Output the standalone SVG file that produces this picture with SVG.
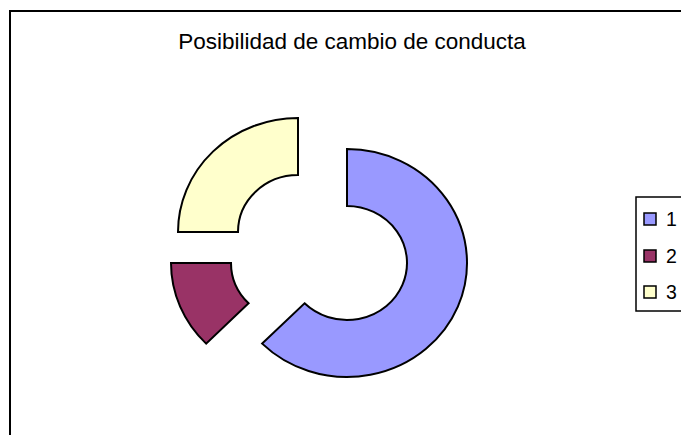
<svg xmlns="http://www.w3.org/2000/svg" width="681" height="435" viewBox="0 0 681 435">
<style>
  .seg { stroke: #000; stroke-width: 2; stroke-linejoin: miter; }
  .s1 { fill: #9999FF; }
  .s2 { fill: #993366; }
  .s3 { fill: #FFFFCC; }
  .sw { stroke: #000; stroke-width: 1.5; }
  .txt { font-family: "Liberation Sans", Arial, sans-serif; fill: #000; }
  .lg { font-size: 19.5px; }
</style>
<rect x="0" y="0" width="681" height="435" fill="#fff"/>
<rect id="chart-frame" x="10" y="11" width="700" height="500" fill="#fff" stroke="#000" stroke-width="2"/>
<text id="title" class="txt" x="352" y="49" font-size="22.5" text-anchor="middle">Posibilidad de cambio de conducta</text>
<g id="donut">
  <g id="seg-1"><path class="seg s1" d="M347,149 A120,114 0 1 1 262.15,343.61 L304.57,303.31 A60,57 0 1 0 347,206 Z"/></g>
  <g id="seg-2"><path class="seg s2" d="M206.15,343.61 A120,114 0 0 1 171,263 L231,263 A60,57 0 0 0 248.57,303.31 Z"/></g>
  <g id="seg-3"><path class="seg s3" d="M178,232 A120,114 0 0 1 298,118 L298,175 A60,57 0 0 0 238,232 Z"/></g>
</g>
<g id="legend">
  <rect x="636" y="197" width="60" height="114" fill="#fff" stroke="#000" stroke-width="1.5"/>
  <g id="legend-1"><rect class="sw s1" x="644" y="213" width="12" height="12"/><text class="txt lg" x="666" y="226">1</text></g>
  <g id="legend-2"><rect class="sw s2" x="644" y="250" width="12" height="12"/><text class="txt lg" x="666" y="263">2</text></g>
  <g id="legend-3"><rect class="sw s3" x="644" y="286" width="12" height="12"/><text class="txt lg" x="666" y="299">3</text></g>
</g>
<g id="connectors"></g>
</svg>
